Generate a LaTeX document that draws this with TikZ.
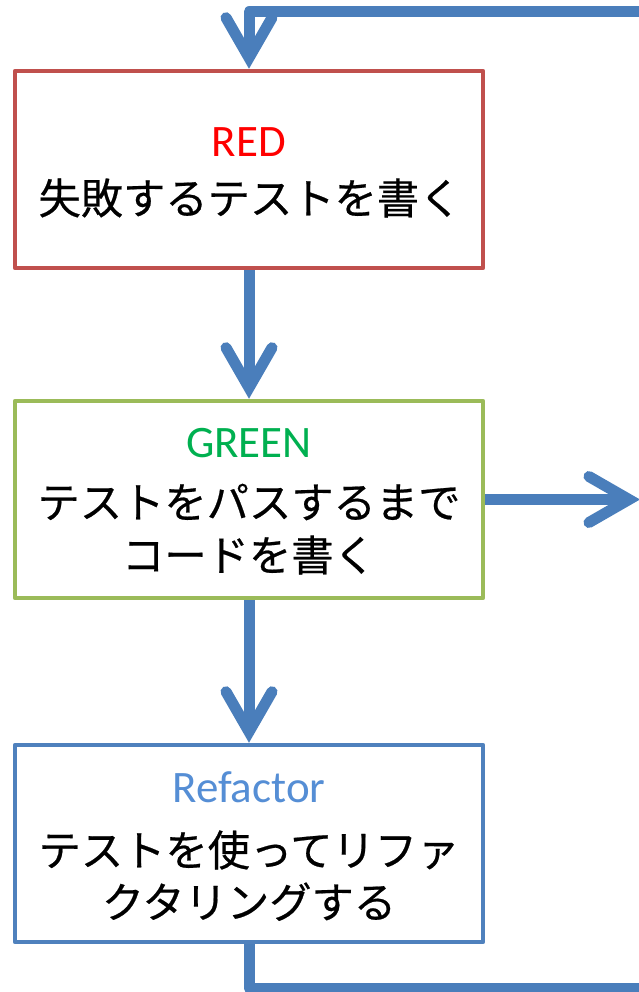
\documentclass[tikz,border=0pt]{standalone}
\usepackage{fontspec}
\setmainfont{Carlito}
\newfontfamily\jpfont[FakeBold=0.5]{Noto Sans CJK JP}
\usetikzlibrary{arrows.meta}
\definecolor{boxred}{HTML}{C0504D}
\definecolor{boxgreen}{HTML}{9BBB59}
\definecolor{boxblue}{HTML}{4F81BD}
\definecolor{arrowblue}{HTML}{4A7EBB}
\definecolor{txtred}{HTML}{FF0000}
\definecolor{txtgreen}{HTML}{00B050}
\definecolor{txtblue}{HTML}{558ED5}
\tikzset{
  stepbox/.style={draw, line width=4.5pt, line join=round, fill=white, inner sep=0pt,
    minimum width=468pt, minimum height=197pt},
  ttl/.style={anchor=base, inner sep=0pt, font=\fontsize{45}{54}\selectfont},
  jp/.style={anchor=base, inner sep=0pt, font=\jpfont\fontsize{42.3}{50}\selectfont},
  flow/.style={draw=arrowblue, line width=11pt, line join=round,
    -{Straight Barb[length=40pt, width=46pt, line cap=round, line join=miter]}},
  flowline/.style={draw=arrowblue, line width=11pt, line join=round}
}
\begin{document}
\begin{tikzpicture}[x=1pt, y=-1pt]
\useasboundingbox (0,0) rectangle (639,992);
% boxes
\node[stepbox, draw=boxred] (red) at (249,169.5) {};
\node[stepbox, draw=boxgreen] (green) at (249,499.5) {};
\node[stepbox, draw=boxblue] (blue) at (249,843.5) {};
% texts
\node[ttl, text=txtred] (redt) at (249,157) {RED};
\node[jp] (redj) at (250,214) {失敗するテストを書く};
\node[ttl, text=txtgreen] (greent) at (249,457) {GREEN};
\node[jp] (greenj1) at (249,518) {テストをパスするまで};
\node[jp] (greenj2) at (249,571) {コードを書く};
\node[ttl, text=txtblue] (bluet) at (249,802) {Refactor};
\node[jp] (bluej1) at (249,866) {テストを使ってリファ};
\node[jp] (bluej2) at (249,918) {クタリングする};
% connectors
\coordinate (topright) at (660,12);
\coordinate (botright) at (660,988);
\coordinate (rightend) at (640,499.5);
\draw[flow] (topright) -| (red.north);
\draw[flow] (red.south) -- (green.north);
\draw[flow] (green.south) -- (blue.north);
\draw[flow] (green.east) -- (rightend);
\draw[flowline] (blue.south) |- (botright);
\end{tikzpicture}
\end{document}
